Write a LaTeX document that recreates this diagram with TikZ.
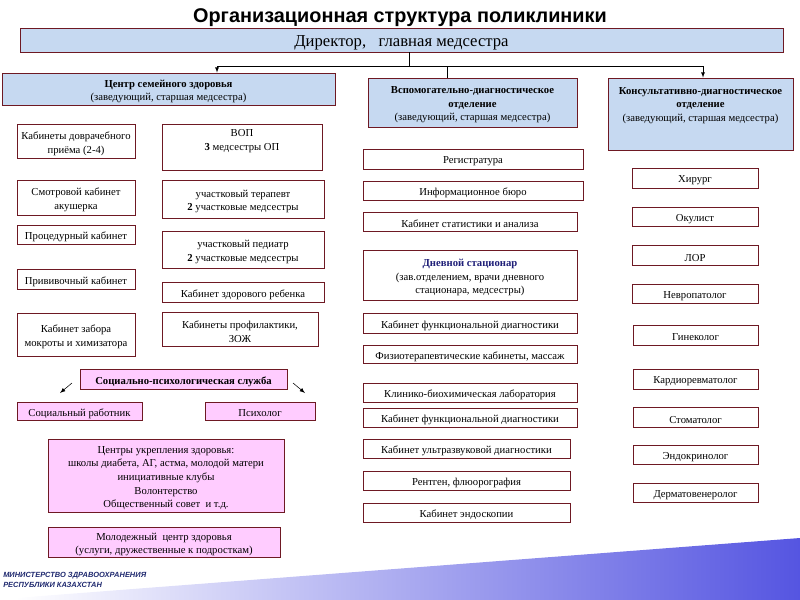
\documentclass[tikz,border=0pt]{standalone}
\usepackage{fontspec}
\setmainfont{Liberation Serif}
\newfontfamily\headfont{Liberation Sans}
\usetikzlibrary{arrows}
\definecolor{frameRed}{RGB}{110,25,35}
\definecolor{deptBlue}{RGB}{198,217,241}
\definecolor{servPink}{RGB}{255,204,255}
\definecolor{stacNavy}{RGB}{31,31,120}
\definecolor{minNavy}{RGB}{30,40,110}
\definecolor{wedgeBlue}{RGB}{85,85,225}
\newcommand{\unitFont}{\fontsize{8}{10.2}\selectfont}
\newcommand{\drawUnit}[7]{
	\node[#6, minimum width={(#4-#2)*0.75pt}, minimum height={(#5-#3)*0.75pt}] (#1) at ({(#2+#4)/2},{(#3+#5)/2}) {};
	\node[#6, draw=none, fill=none] (#1-text) at ([yshift=-1.9pt]#1.center) {#7};
}
\tikzset{
	unit/.style={draw=frameRed, line width=0.6pt, fill=white, inner sep=0pt, align=center, font=\unitFont},
	dept/.style={unit, fill=deptBlue},
	serv/.style={unit, fill=servPink},
}
\begin{document}
\begin{tikzpicture}[x=0.75pt, y=-0.75pt]
	\useasboundingbox (0,0) rectangle (800,600);

	\shade[left color=white, right color=wedgeBlue] (15,598) -- (800,538) -- (800,600) -- (15,600) -- cycle;
	\node[anchor=west, align=left, text=minNavy, inner sep=0pt, font=\headfont\bfseries\itshape\fontsize{5.6}{7.6}\selectfont] (ministry) at (3,580) {МИНИСТЕРСТВО ЗДРАВООХРАНЕНИЯ\\РЕСПУБЛИКИ КАЗАХСТАН};

	\node[font=\headfont\bfseries\fontsize{14.9}{16}\selectfont] (title) at (400,18) {Организационная структура поликлиники};

	\drawUnit{dir}{20}{28}{783}{52}{dept, font=\fontsize{12.5}{14}\selectfont}{Директор,\ \ \ главная медсестра}
	\drawUnit{csz}{2}{73}{335}{105}{dept}{\textbf{Центр семейного здоровья}\\(заведующий, старшая медсестра)}
	\drawUnit{vdo}{368}{78}{577}{127}{dept}{\textbf{Вспомогательно-диагностическое}\\\textbf{отделение}\\(заведующий, старшая медсестра)}
	\drawUnit{kdo}{608}{78}{793}{150}{dept}{\textbf{Консультативно-диагностическое}\\\textbf{отделение}\\(заведующий, старшая медсестра)\\[8pt]\mbox{}}

	\coordinate (hub) at (409,66);
	\coordinate (busL) at (217,66);
	\coordinate (busR) at (703,66);
	\coordinate (busM) at (447,66);
	\draw (hub |- dir.south) -- (hub);
	\draw (busL) -- (busR);
	\draw[-latex] (busL) -- (busL |- csz.north);
	\draw[-latex] (busR) -- (busR |- kdo.north);
	\draw (busM) -- (busM |- vdo.north);

	\drawUnit{dovr}{17}{124}{135}{158}{unit}{Кабинеты доврачебного\\приёма (2-4)}
	\drawUnit{smotr}{17}{180}{135}{215}{unit}{Смотровой кабинет\\акушерка}
	\drawUnit{proc}{17}{225}{135}{244}{unit}{Процедурный кабинет}
	\drawUnit{priv}{17}{269}{135}{289}{unit}{Прививочный кабинет}
	\drawUnit{mokr}{17}{313}{135}{356}{unit}{Кабинет забора\\мокроты и химизатора}
	\drawUnit{vop}{162}{124}{322}{170}{unit}{ВОП\\\textbf{3} медсестры ОП\\[4pt]\mbox{}}
	\drawUnit{ter}{162}{180}{324}{218}{unit}{участковый терапевт\\\textbf{2} участковые медсестры}
	\drawUnit{ped}{162}{231}{324}{268}{unit}{участковый педиатр\\\textbf{2} участковые медсестры}
	\drawUnit{zdr}{162}{282}{324}{302}{unit}{Кабинет здорового ребенка}
	\drawUnit{prof}{162}{312}{318}{346}{unit}{Кабинеты профилактики,\\ЗОЖ}

	\drawUnit{sps}{80}{369}{287}{389}{serv}{\textbf{Социально-психологическая служба}}
	\drawUnit{socr}{17}{402}{142}{420}{serv}{Социальный работник}
	\drawUnit{psy}{205}{402}{315}{420}{serv}{Психолог}
	\drawUnit{ukr}{48}{439}{284}{512}{serv}{Центры укрепления здоровья:\\школы диабета, АГ, астма, молодой матери\\инициативные клубы\\Волонтерство\\Общественный совет\ \ и т.д.}
	\drawUnit{mol}{48}{527}{280}{557}{serv}{Молодежный\ \ центр здоровья\\(услуги, дружественные к подросткам)}
	\coordinate (spsL) at (72,383);
	\coordinate (spsR) at (293,383);
	\draw[-latex] (spsL) -- ++(-12,10);
	\draw[-latex] (spsR) -- ++(12,10);

	\drawUnit{reg}{363}{149}{583}{169}{unit}{Регистратура}
	\drawUnit{info}{363}{181}{583}{200}{unit}{Информационное бюро}
	\drawUnit{stat}{363}{212}{577}{231}{unit}{Кабинет статистики и анализа}
	\drawUnit{stac}{363}{250}{577}{300}{unit}{\textcolor{stacNavy}{\textbf{Дневной стационар}}\\(зав.отделением, врачи дневного\\стационара, медсестры)}
	\drawUnit{fdA}{363}{313}{577}{333}{unit}{Кабинет функциональной диагностики}
	\drawUnit{fiz}{363}{345}{577}{363}{unit}{Физиотерапевтические кабинеты, массаж}
	\drawUnit{lab}{363}{383}{577}{402}{unit}{Клинико-биохимическая лаборатория}
	\drawUnit{fdB}{363}{408}{577}{427}{unit}{Кабинет функциональной диагностики}
	\drawUnit{uzi}{363}{439}{570}{458}{unit}{Кабинет ультразвуковой диагностики}
	\drawUnit{rent}{363}{471}{570}{490}{unit}{Рентген, флюорография}
	\drawUnit{endo}{363}{503}{570}{522}{unit}{Кабинет эндоскопии}

	\drawUnit{hir}{632}{168}{758}{188}{unit}{Хирург}
	\drawUnit{okul}{632}{207}{758}{226}{unit}{Окулист}
	\drawUnit{lor}{632}{245}{758}{265}{unit}{ЛОР}
	\drawUnit{nevr}{632}{284}{758}{303}{unit}{Невропатолог}
	\drawUnit{gin}{633}{325}{758}{345}{unit}{Гинеколог}
	\drawUnit{kard}{633}{369}{758}{389}{unit}{Кардиоревматолог}
	\drawUnit{stom}{633}{407}{758}{427}{unit}{Стоматолог}
	\drawUnit{endk}{633}{445}{758}{464}{unit}{Эндокринолог}
	\drawUnit{derm}{633}{483}{758}{502}{unit}{Дерматовенеролог}
\end{tikzpicture}
\end{document}
